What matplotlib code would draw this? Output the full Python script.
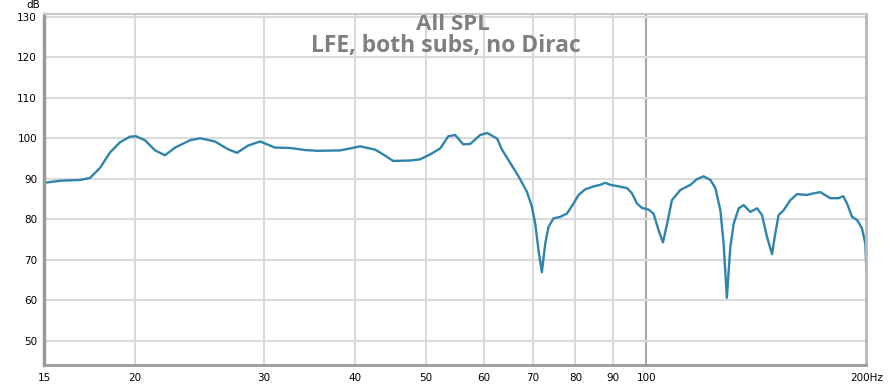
import numpy as np
import matplotlib.pyplot as plt

# Frequency response (Hz, dB)
freq = [15.0, 15.78, 16.8, 17.34, 17.9, 18.47, 19.06, 19.67, 20.04, 20.62,
        21.29, 21.96, 22.67, 23.76, 24.53, 25.71, 26.77, 27.55, 28.53, 29.63,
        31.06, 32.57, 34.14, 35.46, 38.13, 40.6, 42.57, 43.93, 45.06, 47.53,
        49.05, 50.62, 52.26, 53.6, 54.78, 56.18, 57.43, 59.26, 60.6, 62.53,
        63.47, 65.15, 66.87, 68.67, 69.75, 70.49, 71.22, 71.98, 72.73, 73.49,
        74.66, 76.26, 77.88, 79.53, 80.79, 82.52, 84.69, 86.5, 87.89, 89.28,
        91.19, 94.1, 95.6, 97.1, 98.65, 100.7, 102.3, 104.0, 105.4, 106.8,
        108.4, 111.3, 114.9, 117.3, 119.8, 122.4, 124.3, 126.3, 127.6, 128.9,
        130.3, 131.7, 133.8, 135.9, 138.8, 141.8, 144.0, 146.3, 148.6, 150.1,
        151.7, 154.1, 157.4, 160.8, 165.9, 169.4, 173.0, 178.5, 183.3, 185.9,
        188.2, 191.2, 194.3, 197.3, 199.4, 200.0]
spl = [89.0, 89.5, 89.7, 90.2, 92.7, 96.5, 99.0, 100.4, 100.5, 99.5,
       97.0, 95.8, 97.7, 99.5, 100.0, 99.2, 97.3, 96.4, 98.2, 99.2,
       97.7, 97.6, 97.1, 96.9, 97.0, 98.0, 97.2, 95.7, 94.4, 94.5,
       94.8, 96.0, 97.5, 100.5, 100.8, 98.5, 98.6, 100.8, 101.3, 99.9,
       97.2, 93.9, 90.6, 86.8, 83.1, 78.9, 72.3, 66.9, 73.9, 78.1,
       80.2, 80.6, 81.4, 83.9, 86.0, 87.4, 88.1, 88.5, 89.0, 88.5,
       88.2, 87.7, 86.4, 83.9, 82.8, 82.4, 81.4, 77.2, 74.3, 78.9,
       84.7, 87.2, 88.5, 89.9, 90.6, 89.7, 87.7, 82.2, 73.9, 60.6,
       73.1, 78.9, 82.7, 83.5, 81.8, 82.7, 81.0, 75.6, 71.4, 76.4,
       81.0, 82.2, 84.7, 86.2, 86.0, 86.4, 86.7, 85.2, 85.2, 85.7,
       83.9, 80.6, 79.8, 77.7, 73.9, 67.8]

xticks = [15, 20, 30, 40, 50, 60, 70, 80, 90, 100, 200]
xlabels = ["15", "20", "30", "40", "50", "60", "70", "80", "90", "100", "200Hz"]
yticks = [50, 60, 70, 80, 90, 100, 110, 120, 130]

fig = plt.figure(figsize=(8.9, 3.87), dpi=100)
ax = fig.add_axes([0.0494, 0.0568, 0.924, 0.9082])

ax.plot(freq, spl, color="#2f84ab", lw=1.7, solid_joinstyle="round")

ax.set_xscale("log")
ax.set_xlim(15, 200)
ax.set_ylim(44, 130.8)
ax.set_xticks(xticks)
ax.set_xticklabels(xlabels)
ax.xaxis.set_minor_locator(plt.NullLocator())
ax.set_yticks(yticks)

ax.tick_params(length=0, labelsize=7.5, pad=5, colors="black")
ax.tick_params(axis="x", pad=6)

ax.grid(True, color="#dadada", lw=1.5)
ax.set_axisbelow(True)
for tick, line in zip(xticks, ax.xaxis.get_gridlines()):
    if tick == 100:
        line.set_color("#a8a8a8")
    if tick in (15, 200):
        line.set_visible(False)

ax.spines["left"].set_color("#9a9a9a")
ax.spines["left"].set_linewidth(2.5)
ax.spines["bottom"].set_color("#9a9a9a")
ax.spines["bottom"].set_linewidth(2)
ax.spines["top"].set_color("#c8c8c8")
ax.spines["top"].set_linewidth(1.5)
ax.spines["right"].set_color("#b8b8b8")
ax.spines["right"].set_linewidth(2)

ax.text(-0.005, 1.01, "dB", transform=ax.transAxes, ha="right", va="bottom", fontsize=7.5)

# two-line title inside the plot
ax.text(0.497, 0.952, "All SPL", transform=ax.transAxes, ha="center", va="baseline",
        fontsize=16, fontweight="bold", color="#808080", family="Open Sans")
ax.text(0.489, 0.892, "LFE, both subs, no Dirac", transform=ax.transAxes, ha="center",
        va="baseline", fontsize=16.5, fontweight="bold", color="#808080", family="Open Sans")

fig.savefig("out.png", dpi=100)
